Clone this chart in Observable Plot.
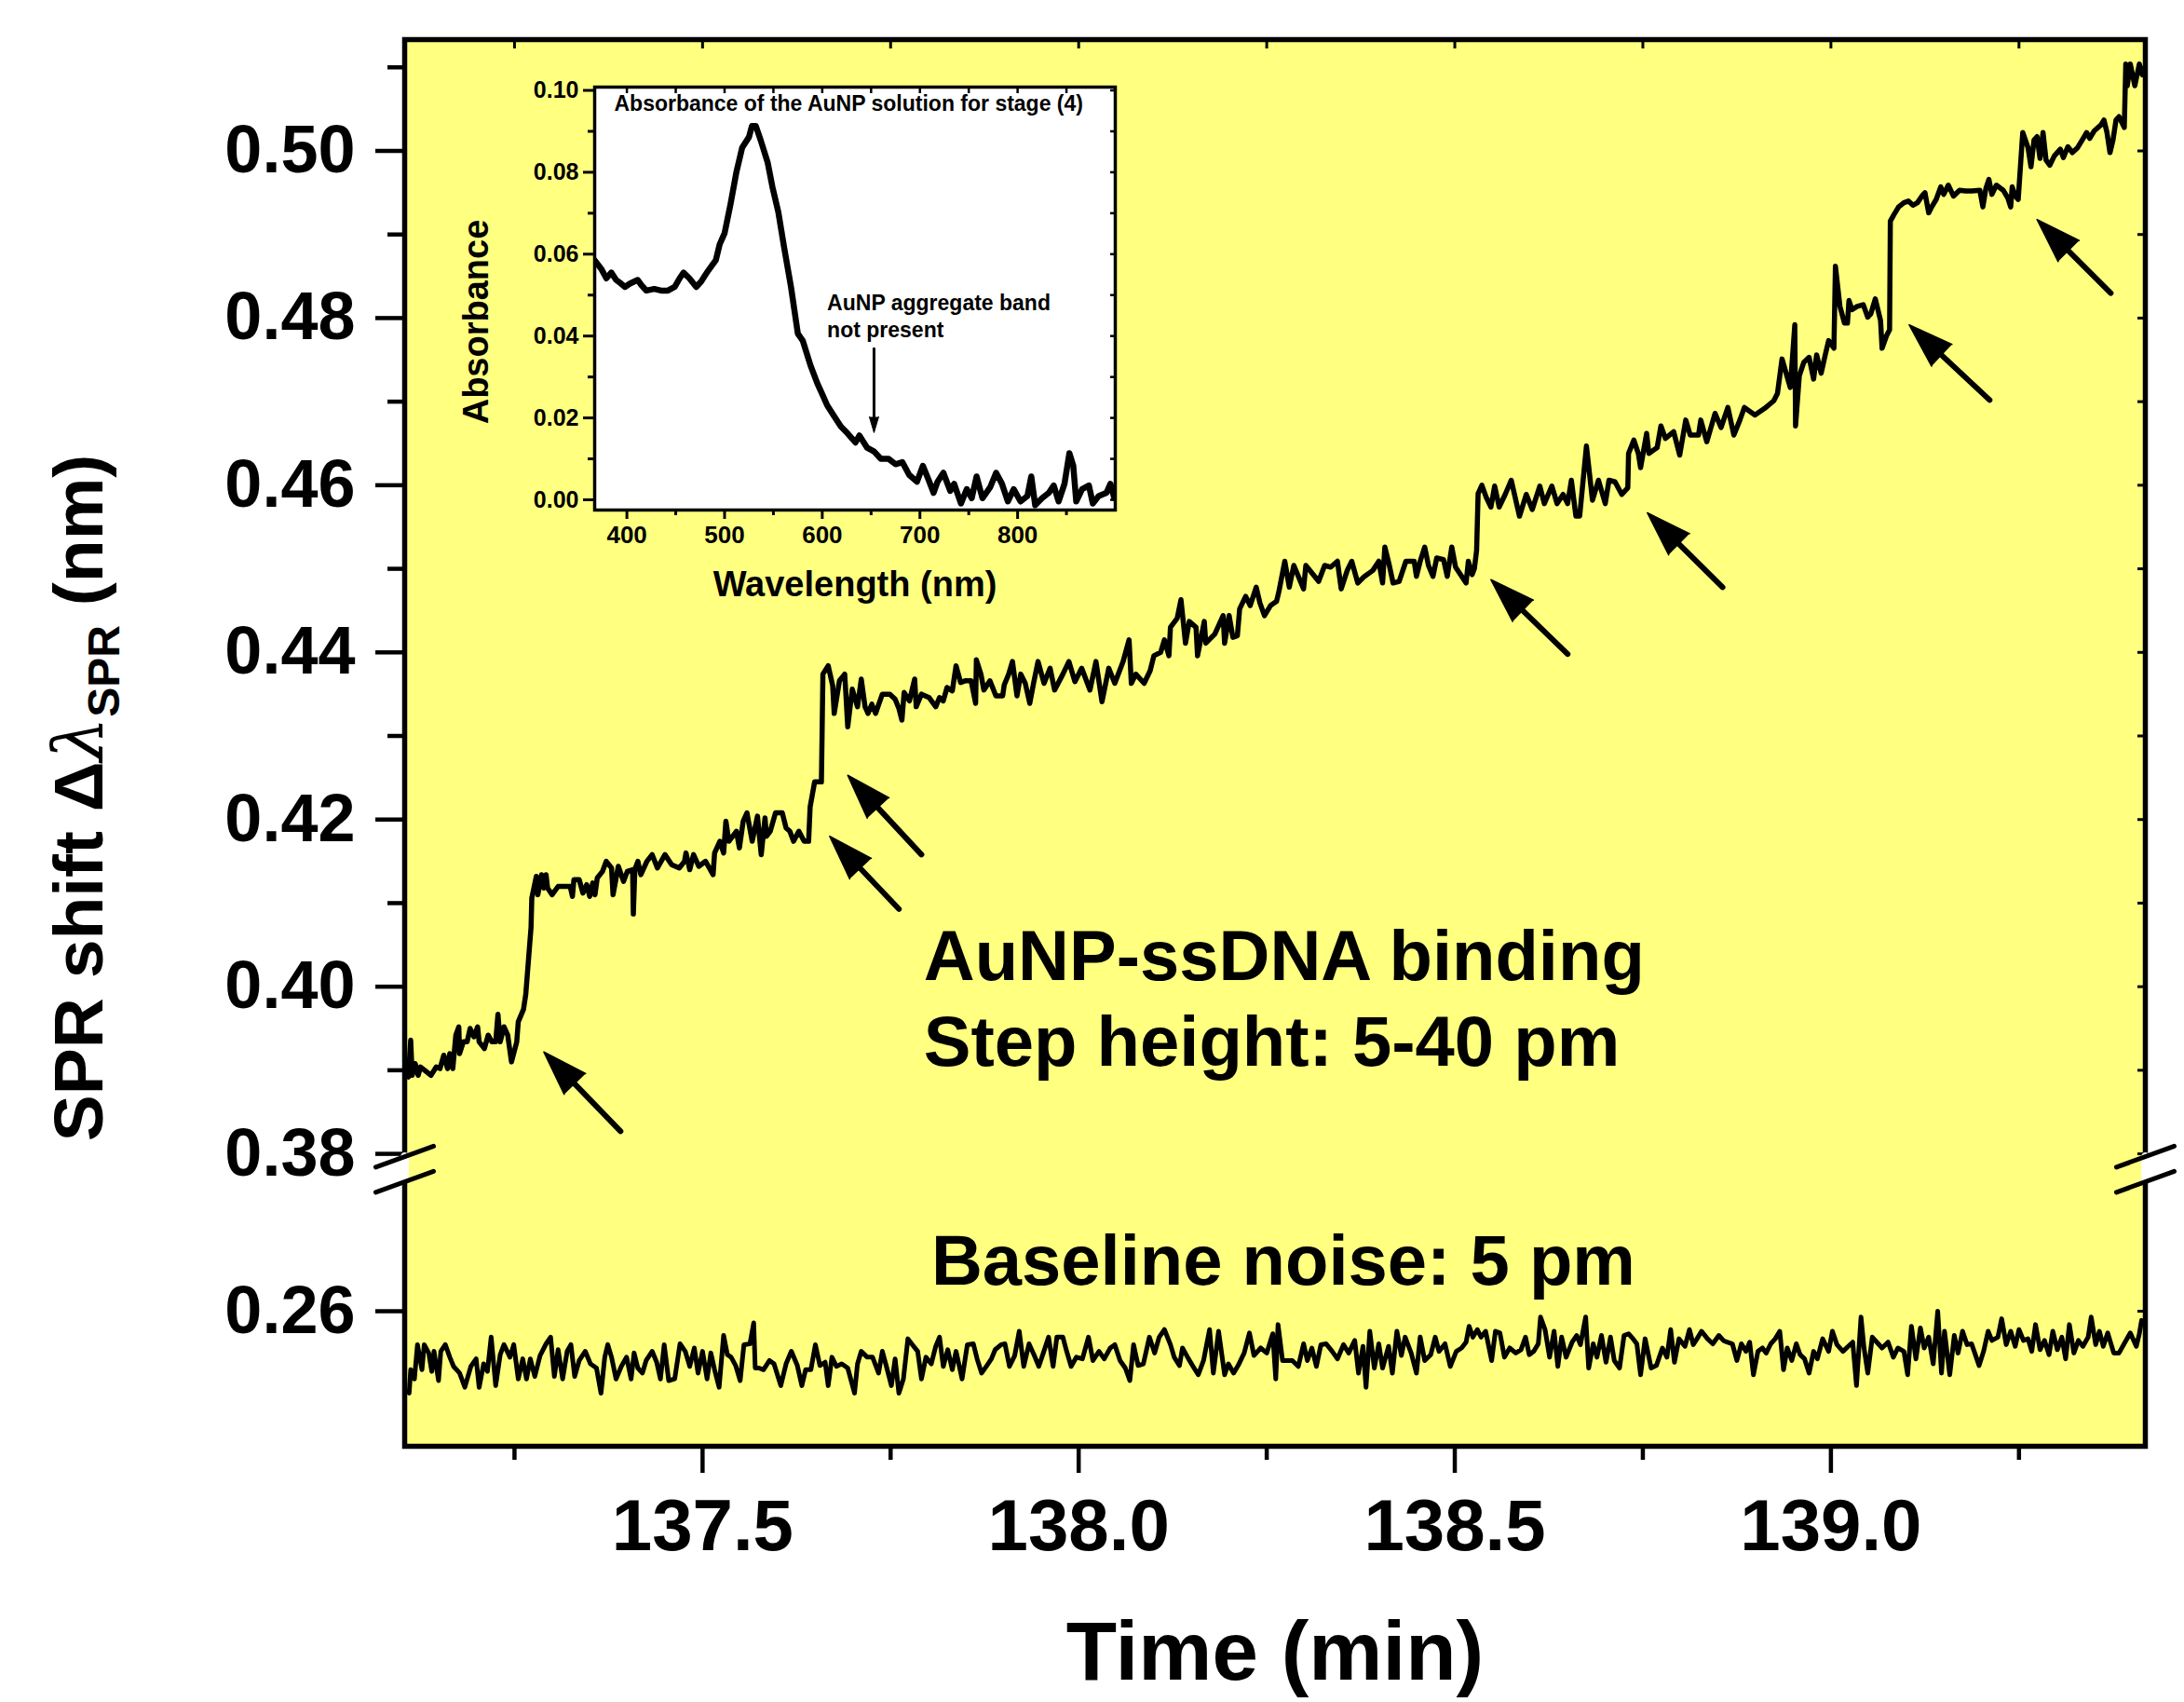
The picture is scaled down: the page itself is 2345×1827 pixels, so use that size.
<!DOCTYPE html>
<html><head><meta charset="utf-8">
<script src="https://cdn.jsdelivr.net/npm/d3@7"></script>
<script src="https://cdn.jsdelivr.net/npm/@observablehq/plot@0.6"></script>
<style>
html,body{margin:0;padding:0;background:#fff;overflow:hidden;}
#wrap{position:relative;width:2345px;height:1827px;}
#inset{position:absolute;left:470px;top:70px;}
svg text{font-family:"Liberation Sans",Arial,Helvetica,sans-serif;font-weight:bold;}
</style></head><body><div id="wrap"><div id="main"></div><div id="inset"></div></div>
<script>
// ---------- data ----------
const stepTrace = [
[137.106,0.3896],[137.109,0.3892],[137.112,0.3936],[137.114,0.3894],[137.118,0.3908],[137.122,0.3894],[137.125,0.3904],[137.139,0.3894],
[137.146,0.3904],[137.151,0.3902],[137.156,0.3918],[137.161,0.3902],[137.164,0.3920],[137.168,0.3902],[137.172,0.3942],[137.176,0.3952],
[137.177,0.3920],[137.182,0.3934],[137.187,0.3934],[137.191,0.3950],[137.196,0.3940],[137.201,0.3952],[137.203,0.3934],[137.210,0.3926],
[137.215,0.3942],[137.220,0.3934],[137.225,0.3934],[137.228,0.3967],[137.231,0.3934],[137.236,0.3952],[137.241,0.3942],[137.246,0.3910],
[137.253,0.3934],[137.255,0.3958],[137.262,0.3973],[137.265,0.3991],[137.272,0.4071],[137.273,0.4106],[137.279,0.4132],[137.281,0.4110],
[137.286,0.4134],[137.289,0.4118],[137.292,0.4134],[137.294,0.4118],[137.300,0.4110],[137.308,0.4120],[137.324,0.4120],[137.327,0.4108],
[137.329,0.4128],[137.336,0.4128],[137.341,0.4112],[137.346,0.4122],[137.350,0.4108],[137.354,0.4124],[137.357,0.4110],[137.360,0.4130],
[137.367,0.4138],[137.372,0.4150],[137.379,0.4142],[137.381,0.4110],[137.388,0.4144],[137.395,0.4126],[137.400,0.4138],[137.407,0.4140],
[137.408,0.4087],[137.410,0.4140],[137.414,0.4150],[137.418,0.4134],[137.426,0.4150],[137.433,0.4158],[137.440,0.4142],[137.450,0.4158],
[137.459,0.4146],[137.469,0.4142],[137.476,0.4150],[137.478,0.4160],[137.483,0.4140],[137.488,0.4158],[137.495,0.4144],[137.504,0.4150],
[137.509,0.4142],[137.514,0.4134],[137.516,0.4160],[137.523,0.4174],[137.528,0.4160],[137.531,0.4198],[137.535,0.4174],[137.545,0.4186],
[137.549,0.4166],[137.554,0.4198],[137.559,0.4208],[137.566,0.4174],[137.573,0.4204],[137.578,0.4158],[137.583,0.4202],[137.585,0.4180],
[137.590,0.4186],[137.597,0.4208],[137.606,0.4208],[137.611,0.4190],[137.616,0.4186],[137.621,0.4174],[137.628,0.4186],[137.635,0.4174],
[137.641,0.4174],[137.643,0.4215],[137.649,0.4245],[137.658,0.4245],[137.660,0.4374],[137.667,0.4384],[137.673,0.4360],[137.675,0.4327],
[137.682,0.4366],[137.689,0.4374],[137.693,0.4311],[137.699,0.4356],[137.706,0.4335],[137.711,0.4368],[137.716,0.4335],[137.720,0.4327],
[137.725,0.4338],[137.730,0.4327],[137.739,0.4350],[137.749,0.4350],[137.756,0.4344],[137.761,0.4333],[137.765,0.4319],[137.768,0.4352],
[137.775,0.4342],[137.782,0.4368],[137.784,0.4335],[137.791,0.4350],[137.801,0.4346],[137.810,0.4335],[137.815,0.4346],[137.820,0.4342],
[137.825,0.4358],[137.832,0.4354],[137.837,0.4384],[137.843,0.4364],[137.849,0.4366],[137.857,0.4366],[137.863,0.4339],[137.864,0.4391],
[137.870,0.4374],[137.874,0.4355],[137.882,0.4366],[137.890,0.4348],[137.899,0.4348],[137.901,0.4361],[137.907,0.4374],[137.912,0.4389],
[137.918,0.4348],[137.923,0.4374],[137.929,0.4363],[137.935,0.4339],[137.940,0.4363],[137.946,0.4389],[137.954,0.4363],[137.962,0.4381],
[137.968,0.4355],[137.979,0.4374],[137.987,0.4389],[137.995,0.4365],[138.004,0.4381],[138.015,0.4355],[138.023,0.4389],[138.031,0.4341],
[138.040,0.4381],[138.048,0.4363],[138.059,0.4389],[138.067,0.4415],[138.070,0.4363],[138.076,0.4374],[138.087,0.4363],[138.095,0.4378],
[138.100,0.4396],[138.109,0.4400],[138.114,0.4415],[138.120,0.4396],[138.122,0.4430],[138.131,0.4441],[138.136,0.4463],[138.142,0.4411],
[138.147,0.4437],[138.156,0.4430],[138.158,0.4396],[138.167,0.4437],[138.169,0.4411],[138.181,0.4422],[138.192,0.4444],[138.194,0.4411],
[138.200,0.4444],[138.205,0.4418],[138.211,0.4420],[138.214,0.4452],[138.222,0.4467],[138.228,0.4456],[138.236,0.4478],[138.241,0.4459],
[138.247,0.4444],[138.255,0.4456],[138.263,0.4461],[138.266,0.4472],[138.274,0.4509],[138.280,0.4478],[138.286,0.4504],[138.299,0.4476],
[138.302,0.4504],[138.319,0.4485],[138.327,0.4504],[138.335,0.4502],[138.344,0.4509],[138.349,0.4476],[138.357,0.4498],[138.363,0.4509],
[138.371,0.4483],[138.380,0.4491],[138.391,0.4498],[138.399,0.4509],[138.404,0.4483],[138.407,0.4526],[138.413,0.4504],[138.418,0.4483],
[138.426,0.4485],[138.435,0.4509],[138.446,0.4509],[138.449,0.4491],[138.454,0.4509],[138.460,0.4526],[138.465,0.4504],[138.471,0.4491],
[138.476,0.4513],[138.485,0.4511],[138.490,0.4491],[138.496,0.4526],[138.501,0.4502],[138.515,0.4483],[138.518,0.4509],[138.523,0.4493],
[138.526,0.4500],[138.529,0.4522],[138.531,0.4590],[138.536,0.4600],[138.542,0.4585],[138.548,0.4574],[138.553,0.4599],[138.559,0.4574],
[138.567,0.4589],[138.575,0.4606],[138.586,0.4563],[138.595,0.4589],[138.603,0.4571],[138.613,0.4599],[138.619,0.4578],[138.629,0.4599],
[138.636,0.4578],[138.644,0.4589],[138.650,0.4578],[138.655,0.4606],[138.661,0.4563],[138.666,0.4563],[138.675,0.4647],[138.683,0.4582],
[138.691,0.4606],[138.700,0.4578],[138.705,0.4606],[138.713,0.4604],[138.722,0.4589],[138.730,0.4597],[138.731,0.4638],[138.738,0.4654],
[138.744,0.4638],[138.747,0.4621],[138.755,0.4662],[138.758,0.4638],[138.769,0.4645],[138.774,0.4671],[138.780,0.4656],[138.791,0.4664],
[138.799,0.4636],[138.807,0.4678],[138.813,0.4660],[138.824,0.4660],[138.827,0.4678],[138.835,0.4652],[138.846,0.4686],[138.854,0.4669],
[138.863,0.4693],[138.871,0.4660],[138.879,0.4678],[138.885,0.4693],[138.899,0.4684],[138.912,0.4692],[138.924,0.4701],[138.929,0.4710],
[138.935,0.4751],[138.946,0.4717],[138.952,0.4792],[138.953,0.4671],[138.958,0.4731],[138.964,0.4747],[138.971,0.4753],[138.977,0.4727],
[138.981,0.4756],[138.987,0.4734],[138.993,0.4758],[138.997,0.4773],[139.004,0.4764],[139.006,0.4862],[139.012,0.4814],[139.018,0.4794],
[139.022,0.4794],[139.024,0.4821],[139.028,0.4810],[139.035,0.4814],[139.043,0.4816],[139.049,0.4801],[139.053,0.4805],[139.059,0.4823],
[139.066,0.4797],[139.068,0.4764],[139.074,0.4779],[139.078,0.4786],[139.079,0.4916],[139.084,0.4924],[139.090,0.4933],[139.097,0.4938],
[139.103,0.4940],[139.109,0.4935],[139.115,0.4938],[139.121,0.4946],[139.125,0.4950],[139.130,0.4926],[139.134,0.4933],[139.140,0.4942],
[139.146,0.4957],[139.150,0.4948],[139.156,0.4959],[139.163,0.4946],[139.171,0.4953],[139.179,0.4952],[139.187,0.4952],[139.198,0.4953],
[139.202,0.4933],[139.206,0.4955],[139.210,0.4966],[139.214,0.4948],[139.220,0.4959],[139.229,0.4953],[139.235,0.4944],[139.239,0.4933],
[139.241,0.4957],[139.245,0.4946],[139.249,0.4942],[139.255,0.5022],[139.262,0.5004],[139.266,0.4981],[139.270,0.5013],[139.274,0.5017],
[139.278,0.4991],[139.282,0.5022],[139.286,0.4989],[139.291,0.4983],[139.297,0.4994],[139.305,0.5002],[139.309,0.4992],[139.315,0.5005],
[139.321,0.4998],[139.328,0.5004],[139.334,0.5013],[139.340,0.5022],[139.344,0.5015],[139.350,0.5024],[139.359,0.5031],[139.363,0.5037],
[139.367,0.5022],[139.371,0.4998],[139.375,0.5013],[139.379,0.5037],[139.383,0.5041],[139.390,0.5028],[139.392,0.5104],[139.394,0.5078],
[139.398,0.5104],[139.404,0.5078],[139.410,0.5104],[139.414,0.5091]
];

const baselineTrace = [
[137.110,0.2502],[137.112,0.2530],[137.117,0.2519],[137.121,0.2560],[137.127,0.2530],[137.130,0.2560],[137.136,0.2550],[137.140,0.2528],
[137.143,0.2552],[137.149,0.2517],[137.152,0.2552],[137.158,0.2560],[137.164,0.2545],[137.169,0.2534],[137.177,0.2526],[137.184,0.2509],
[137.192,0.2534],[137.199,0.2543],[137.203,0.2509],[137.209,0.2537],[137.214,0.2528],[137.219,0.2569],[137.225,0.2511],[137.231,0.2548],
[137.236,0.2560],[137.244,0.2545],[137.249,0.2560],[137.255,0.2519],[137.261,0.2543],[137.266,0.2519],[137.271,0.2543],[137.277,0.2522],
[137.284,0.2547],[137.292,0.2561],[137.298,0.2569],[137.303,0.2522],[137.308,0.2554],[137.314,0.2519],[137.320,0.2552],[137.325,0.2560],
[137.330,0.2522],[137.336,0.2541],[137.344,0.2552],[137.351,0.2537],[137.359,0.2532],[137.365,0.2502],[137.370,0.2545],[137.374,0.2560],
[137.379,0.2545],[137.385,0.2519],[137.392,0.2534],[137.399,0.2545],[137.405,0.2519],[137.409,0.2550],[137.414,0.2532],[137.420,0.2526],
[137.425,0.2541],[137.433,0.2552],[137.439,0.2539],[137.444,0.2519],[137.449,0.2560],[137.455,0.2517],[137.463,0.2519],[137.470,0.2561],
[137.477,0.2552],[137.483,0.2534],[137.489,0.2556],[137.494,0.2526],[137.500,0.2552],[137.506,0.2519],[137.511,0.2550],[137.516,0.2530],
[137.522,0.2509],[137.528,0.2571],[137.533,0.2548],[137.538,0.2545],[137.544,0.2535],[137.550,0.2517],[137.555,0.2560],[137.563,0.2561],
[137.568,0.2586],[137.570,0.2532],[137.575,0.2532],[137.581,0.2530],[137.589,0.2541],[137.595,0.2537],[137.604,0.2511],[137.611,0.2537],
[137.618,0.2552],[137.626,0.2535],[137.632,0.2511],[137.637,0.2530],[137.644,0.2530],[137.650,0.2560],[137.656,0.2535],[137.663,0.2539],
[137.667,0.2511],[137.672,0.2545],[137.678,0.2534],[137.685,0.2537],[137.693,0.2532],[137.702,0.2502],[137.706,0.2537],[137.711,0.2552],
[137.719,0.2545],[137.726,0.2545],[137.734,0.2526],[137.739,0.2552],[137.745,0.2532],[137.751,0.2511],[137.756,0.2543],[137.761,0.2502],
[137.767,0.2519],[137.773,0.2567],[137.778,0.2561],[137.786,0.2552],[137.791,0.2519],[137.797,0.2545],[137.804,0.2537],[137.810,0.2558],
[137.815,0.2569],[137.820,0.2534],[137.826,0.2554],[137.832,0.2530],[137.837,0.2552],[137.845,0.2519],[137.852,0.2560],[137.860,0.2561],
[137.865,0.2543],[137.871,0.2526],[137.878,0.2535],[137.884,0.2543],[137.889,0.2554],[137.897,0.2560],[137.902,0.2561],[137.908,0.2534],
[137.915,0.2547],[137.921,0.2576],[137.927,0.2534],[137.934,0.2561],[137.941,0.2547],[137.947,0.2534],[137.953,0.2550],[137.960,0.2569],
[137.966,0.2534],[137.971,0.2569],[137.979,0.2569],[137.984,0.2552],[137.990,0.2534],[137.997,0.2545],[138.005,0.2543],[138.013,0.2569],
[138.019,0.2541],[138.027,0.2552],[138.034,0.2543],[138.042,0.2556],[138.048,0.2560],[138.055,0.2541],[138.062,0.2532],[138.068,0.2517],
[138.073,0.2560],[138.079,0.2535],[138.086,0.2537],[138.094,0.2569],[138.101,0.2550],[138.107,0.2569],[138.114,0.2578],[138.122,0.2560],
[138.127,0.2545],[138.134,0.2535],[138.138,0.2556],[138.146,0.2543],[138.152,0.2534],[138.159,0.2524],[138.166,0.2541],[138.174,0.2578],
[138.179,0.2526],[138.186,0.2576],[138.194,0.2524],[138.199,0.2537],[138.206,0.2526],[138.212,0.2535],[138.220,0.2550],[138.227,0.2574],
[138.233,0.2547],[138.242,0.2556],[138.250,0.2550],[138.258,0.2573],[138.262,0.2519],[138.265,0.2584],[138.271,0.2541],[138.277,0.2541],
[138.284,0.2541],[138.292,0.2534],[138.299,0.2561],[138.304,0.2541],[138.310,0.2556],[138.316,0.2534],[138.322,0.2560],[138.329,0.2561],
[138.337,0.2552],[138.344,0.2543],[138.352,0.2560],[138.359,0.2550],[138.367,0.2565],[138.372,0.2526],[138.378,0.2558],[138.382,0.2509],
[138.387,0.2576],[138.393,0.2532],[138.399,0.2561],[138.404,0.2532],[138.412,0.2558],[138.417,0.2526],[138.423,0.2576],[138.429,0.2547],
[138.434,0.2569],[138.442,0.2550],[138.449,0.2526],[138.454,0.2569],[138.460,0.2541],[138.468,0.2548],[138.474,0.2569],[138.479,0.2552],
[138.487,0.2561],[138.494,0.2534],[138.502,0.2552],[138.509,0.2556],[138.515,0.2563],[138.519,0.2582],[138.524,0.2569],[138.530,0.2578],
[138.535,0.2569],[138.541,0.2576],[138.549,0.2541],[138.554,0.2576],[138.560,0.2574],[138.566,0.2545],[138.573,0.2556],[138.581,0.2550],
[138.588,0.2554],[138.594,0.2569],[138.599,0.2548],[138.605,0.2552],[138.611,0.2561],[138.614,0.2593],[138.620,0.2578],[138.626,0.2545],
[138.632,0.2576],[138.637,0.2534],[138.642,0.2569],[138.648,0.2545],[138.656,0.2563],[138.662,0.2571],[138.667,0.2560],[138.674,0.2593],
[138.678,0.2532],[138.684,0.2561],[138.689,0.2545],[138.695,0.2571],[138.701,0.2539],[138.707,0.2569],[138.712,0.2541],[138.719,0.2532],
[138.725,0.2571],[138.731,0.2573],[138.737,0.2567],[138.742,0.2561],[138.747,0.2524],[138.753,0.2567],[138.761,0.2532],[138.768,0.2535],
[138.776,0.2556],[138.782,0.2545],[138.787,0.2578],[138.792,0.2539],[138.798,0.2567],[138.806,0.2558],[138.812,0.2578],[138.817,0.2560],
[138.822,0.2567],[138.828,0.2576],[138.836,0.2567],[138.843,0.2561],[138.851,0.2571],[138.857,0.2565],[138.862,0.2563],[138.869,0.2561],
[138.875,0.2541],[138.881,0.2561],[138.887,0.2552],[138.892,0.2563],[138.897,0.2524],[138.903,0.2552],[138.909,0.2556],[138.914,0.2550],
[138.920,0.2561],[138.926,0.2567],[138.932,0.2576],[138.937,0.2530],[138.942,0.2556],[138.948,0.2541],[138.954,0.2561],[138.959,0.2548],
[138.965,0.2543],[138.971,0.2526],[138.977,0.2552],[138.982,0.2543],[138.989,0.2567],[138.997,0.2552],[139.002,0.2576],[139.008,0.2560],
[139.016,0.2552],[139.023,0.2558],[139.029,0.2563],[139.034,0.2511],[139.040,0.2593],[139.044,0.2556],[139.049,0.2526],[139.055,0.2569],
[139.061,0.2563],[139.068,0.2556],[139.076,0.2563],[139.083,0.2545],[139.089,0.2556],[139.097,0.2552],[139.102,0.2524],[139.107,0.2582],
[139.113,0.2543],[139.119,0.2580],[139.124,0.2556],[139.130,0.2569],[139.136,0.2537],[139.142,0.2600],[139.147,0.2526],[139.151,0.2576],
[139.158,0.2524],[139.164,0.2571],[139.169,0.2550],[139.175,0.2576],[139.181,0.2560],[139.187,0.2561],[139.192,0.2548],[139.197,0.2535],
[139.203,0.2552],[139.209,0.2576],[139.214,0.2565],[139.222,0.2569],[139.227,0.2591],[139.233,0.2560],[139.239,0.2576],[139.245,0.2558],
[139.250,0.2578],[139.256,0.2565],[139.262,0.2567],[139.267,0.2552],[139.272,0.2584],[139.278,0.2554],[139.284,0.2565],[139.290,0.2548],
[139.295,0.2576],[139.301,0.2554],[139.307,0.2569],[139.312,0.2543],[139.317,0.2584],[139.323,0.2550],[139.329,0.2565],[139.335,0.2558],
[139.342,0.2569],[139.346,0.2593],[139.352,0.2560],[139.357,0.2576],[139.362,0.2558],[139.368,0.2574],[139.376,0.2550],[139.383,0.2550],
[139.391,0.2563],[139.398,0.2574],[139.406,0.2558],[139.410,0.2573],[139.413,0.2589]
];

// arrows marking binding steps: tail -> head (time, shift)
const arrowTails = [[137.391,0.3827],[137.761,0.4093],[137.791,0.4158],[138.650,0.4398],[138.856,0.4478],[139.211,0.4702],[139.372,0.4830]];
const arrowHeads = [[137.289,0.3922],[137.669,0.4180],[137.693,0.4253],[138.548,0.4487],[138.756,0.4567],[139.104,0.4792],[139.274,0.4918]];

const yMajorTicks = [0.26,0.38,0.40,0.42,0.44,0.46,0.48,0.50];
const yMinorTicks = [0.39,0.41,0.43,0.45,0.47,0.49,0.51];
const yRightTicks = [0.26,0.38,0.39,0.40,0.41,0.42,0.43,0.44,0.45,0.46,0.47,0.48,0.49,0.50,0.51];
const xMajorTicks = [137.5,138.0,138.5,139.0];
const xMinorTicks = [137.25,137.75,138.25,138.75,139.25];
const xTopTicks = [137.25,137.5,137.75,138.0,138.25,138.5,138.75,139.0,139.25];
const breakValue = 0.38;      // lowest value shown in the upper segment
const lowerTop = 0.27883;     // highest value shown in the lower segment
const yBottom = 0.24384, yTop = 0.51332;
const timeDomain = [137.104, 139.418];

const mainNotes = [
  {t:137.794, v:0.4008, label:"AuNP-ssDNA binding"},
  {t:137.794, v:0.3905, label:"Step height: 5-40 pm"},
  {t:137.804, v:0.26317, label:"Baseline noise: 5 pm"}
];

// inset: absorbance spectrum
const spectrum = [
[367,0.0585],[374,0.0563],[379,0.0541],[384,0.0555],[389,0.0537],[394,0.0528],[398,0.0520],[403,0.0528],[411,0.0537],[415,0.0524],
[420,0.0511],[428,0.0515],[435,0.0511],[442,0.0511],[449,0.0520],[454,0.0541],[458,0.0555],[464,0.0541],[471,0.0520],[476,0.0533],
[483,0.0559],[491,0.0585],[495,0.0624],[500,0.0651],[506,0.0721],[512,0.0799],[518,0.0860],[525,0.0886],[528,0.0913],[532,0.0913],
[537,0.0878],[544,0.0825],[549,0.0764],[555,0.0703],[561,0.0616],[568,0.0520],[575,0.0406],[580,0.0389],[588,0.0328],[595,0.0284],
[600,0.0258],[605,0.0231],[612,0.0205],[619,0.0179],[626,0.0162],[634,0.0140],[638,0.0157],[646,0.0127],[653,0.0118],[660,0.0100],
[668,0.0100],[675,0.0087],[682,0.0092],[689,0.0061],[697,0.0044],[703,0.0083],[709,0.0048],[714,0.0017],[718,0.0044],[724,0.0066],
[731,0.0022],[735,0.0039],[742,-0.0009],[748,0.0026],[753,0.0004],[758,0.0057],[764,0.0004],[772,0.0031],[778,0.0066],[784,0.0039],
[790,-0.0004],[796,0.0026],[803,-0.0004],[810,0.0009],[814,0.0057],[818,-0.0013],[825,0.0004],[832,0.0017],[837,0.0035],[842,-0.0004],
[848,0.0039],[853,0.0114],[857,0.0083],[860,-0.0004],[866,0.0026],[873,0.0035],[877,-0.0009],[883,0.0009],[891,0.0017],[895,0.0039],[899,0.0004]
];
const insetYMajor = [0.00,0.02,0.04,0.06,0.08,0.10];
const insetYMinor = [0.01,0.03,0.05,0.07,0.09];
const insetXMajor = [400,500,600,700,800];
const insetXMinor = [450,550,650,750,850];
const insetNotes = [
  {w:387, a:0.0949, label:"Absorbance of the AuNP solution for stage (4)"},
  {w:605, a:0.0464, label:"AuNP aggregate band"},
  {w:605, a:0.0396, label:"not present"}
];
const insetArrow = [{w:653, a0:0.0369, a1:0.0164}];

// ---------- broken axis: the lower segment is shifted up to sit right below the break ----------
const gapShift = breakValue - lowerTop;
const toAxis = v => (v <= lowerTop ? v + gapShift : v);
const fromAxis = p => (p < breakValue ? p - gapShift : p);

// ---------- layout ----------
const W = 2345, H = 1827;
const M = {left:434, right:42, top:42, bottom:275};
const xScale = {domain: timeDomain, range: [M.left, W - M.right], label: null};
const yScale = {domain: [toAxis(yBottom), yTop], range: [H - M.bottom, M.top], label: null};
const FONT = '"Liberation Sans", Arial, Helvetica, sans-serif';

const sx = Plot.scale({x: xScale}), sy = Plot.scale({y: yScale});
const arrows = arrowTails.map((p, i) => {
  const h = arrowHeads[i];
  const ang = Math.atan2(sx.apply(h[0]) - sx.apply(p[0]), sy.apply(p[1]) - sy.apply(h[1])) * 180 / Math.PI;
  return {t0: p[0], v0: p[1], t1: h[0], v1: h[1], angle: ang};
});
const breakPoints = [{t: timeDomain[0], v: breakValue}, {t: timeDomain[1], v: breakValue}];
const noLabel = () => "";
const fmt2 = p => fromAxis(p).toFixed(2);

const main = Plot.plot({
  width: W, height: H,
  marginLeft: M.left, marginRight: M.right, marginTop: M.top, marginBottom: M.bottom,
  x: xScale, y: yScale,
  style: {fontFamily: FONT, fontWeight: "bold", background: "transparent", overflow: "visible", color: "black"},
  marks: [
    Plot.frame({fill: "#ffff80", stroke: null}),
    Plot.line(baselineTrace, {x: d => d[0], y: d => toAxis(d[1]), stroke: "black", strokeWidth: 5, strokeLinejoin: "round"}),
    Plot.line(stepTrace, {x: d => d[0], y: d => d[1], stroke: "black", strokeWidth: 5.5, strokeLinejoin: "round"}),
    Plot.arrow(arrows, {x1: "t0", y1: "v0", x2: "t1", y2: "v1", stroke: "black", strokeWidth: 6, headLength: 0, insetEnd: 34, strokeLinecap: "round"}),
    Plot.vector(arrows, {x: "t1", y: "v1", rotate: "angle", length: 48, r: 16, shape: "spike", anchor: "end", fill: "black", stroke: "black", strokeWidth: 1.5}),
    Plot.text(mainNotes, {x: "t", y: d => toAxis(d.v), text: "label", textAnchor: "start", lineAnchor: "bottom", fontSize: 76, fill: "black"}),
    Plot.axisY({ticks: yMajorTicks.map(toAxis), tickSize: 31, tickPadding: 22, tickFormat: fmt2, fontSize: 72, strokeWidth: 4.5, label: null}),
    Plot.axisY({ticks: yMinorTicks.map(toAxis), tickSize: 18, tickFormat: noLabel, strokeWidth: 4.5, label: null}),
    Plot.axisY({anchor: "right", ticks: yRightTicks.map(toAxis), tickSize: 9, dx: -9, tickFormat: noLabel, strokeWidth: 3, label: null}),
    Plot.axisX({ticks: xMajorTicks, tickSize: 29, tickPadding: 27, tickFormat: d3.format(".1f"), fontSize: 78, strokeWidth: 4.5, label: null}),
    Plot.axisX({ticks: xMinorTicks, tickSize: 15, tickFormat: noLabel, strokeWidth: 4.5, label: null}),
    Plot.axisX({anchor: "top", ticks: xTopTicks, tickSize: 9, dy: 9, tickFormat: noLabel, strokeWidth: 3, label: null}),
    Plot.text(["SPR shift \u0394\u03bb (nm)"], {frameAnchor: "left", text: d => d, textAnchor: "middle", lineAnchor: "middle", rotate: -90, dx: -349, dy: 59, fontSize: 75, fill: "black"}),
    Plot.text(["Time (min)"], {frameAnchor: "bottom", text: d => d, textAnchor: "middle", lineAnchor: "bottom", dy: 250, fontSize: 89, fill: "black"}),
    Plot.frame({stroke: "black", strokeWidth: 5.5}),
    Plot.vector(breakPoints, {x: "t", y: "v", dy: 15, rotate: 0, length: 24, shape: "spike", r: 0, anchor: "middle", stroke: "white", strokeWidth: 9, fill: "none"}),
    Plot.vector(breakPoints, {x: "t", y: "v", dy: 3, rotate: 70, length: 66, shape: "spike", r: 0, anchor: "middle", stroke: "black", strokeWidth: 5, fill: "none", strokeLinecap: "round"}),
    Plot.vector(breakPoints, {x: "t", y: "v", dy: 30, rotate: 70, length: 66, shape: "spike", r: 0, anchor: "middle", stroke: "black", strokeWidth: 5, fill: "none", strokeLinecap: "round"})
  ]
});
document.getElementById("main").appendChild(main);

// y-axis title with italic lambda and subscript
for (const t of main.querySelectorAll("text")) {
  if (t.textContent === "SPR shift \u0394\u03bb (nm)") {
    t.textContent = "";
    const NS = "http://www.w3.org/2000/svg";
    const add = (s, attrs) => { const e = document.createElementNS(NS, "tspan"); e.textContent = s; for (const k in attrs) e.setAttribute(k, attrs[k]); t.appendChild(e); return e; };
    add("SPR shift \u0394", {});
    add("\u03bb", {"font-style": "italic", "font-family": "DejaVu Serif, serif", "font-weight": "normal"});
    add("SPR", {"font-size": "48", "dy": "18"});
    add(" (nm)", {"dy": "-18"});
  }
}

const inset = Plot.plot({
  width: 740, height: 600,
  marginLeft: 168, marginRight: 13, marginTop: 23, marginBottom: 123,
  x: {domain: [367, 900], label: null},
  y: {domain: [-0.0025, 0.1008], label: null},
  style: {fontFamily: FONT, fontWeight: "bold", background: "transparent", overflow: "visible", color: "black"},
  marks: [
    Plot.frame({fill: "white", stroke: null}),
    Plot.line(spectrum, {x: d => d[0], y: d => d[1], stroke: "black", strokeWidth: 6.5, strokeLinejoin: "round", clip: true}),
    Plot.text(insetNotes, {x: "w", y: "a", text: "label", textAnchor: "start", lineAnchor: "bottom", fontSize: 23, fill: "black"}),
    Plot.arrow(insetArrow, {x1: "w", y1: "a0", x2: "w", y2: "a1", stroke: "black", strokeWidth: 3, headLength: 0, insetEnd: 12}),
    Plot.vector(insetArrow, {x: "w", y: "a1", rotate: 180, length: 17, r: 5, shape: "spike", anchor: "end", fill: "black", stroke: "black", strokeWidth: 1}),
    Plot.axisY({ticks: insetYMajor, tickSize: 12, tickPadding: 5, tickFormat: d3.format(".2f"), fontSize: 25, strokeWidth: 3, label: null}),
    Plot.axisY({ticks: insetYMinor, tickSize: 7, tickFormat: noLabel, strokeWidth: 3, label: null}),
    Plot.axisY({anchor: "right", ticks: insetYMajor.concat(insetYMinor), tickSize: 6, dx: -6, tickFormat: noLabel, strokeWidth: 2.5, label: null}),
    Plot.axisX({ticks: insetXMajor, tickSize: 10, tickPadding: 7, tickFormat: d3.format("d"), fontSize: 26, strokeWidth: 3, label: null}),
    Plot.axisX({ticks: insetXMinor, tickSize: 6, tickFormat: noLabel, strokeWidth: 3, label: null}),
    Plot.axisX({anchor: "top", ticks: insetXMajor.concat(insetXMinor), tickSize: 6, dy: 6, tickFormat: noLabel, strokeWidth: 2.5, label: null}),
    Plot.text(["Wavelength (nm)"], {frameAnchor: "bottom", text: d => d, textAnchor: "middle", lineAnchor: "bottom", dy: 92, fontSize: 38, fill: "black"}),
    Plot.text(["Absorbance"], {frameAnchor: "left", text: d => d, textAnchor: "middle", lineAnchor: "middle", rotate: -90, dx: -127, dy: 25, fontSize: 38, fill: "black"}),
    Plot.frame({stroke: "black", strokeWidth: 3.5})
  ]
});
document.getElementById("inset").appendChild(inset);
</script></body></html>
